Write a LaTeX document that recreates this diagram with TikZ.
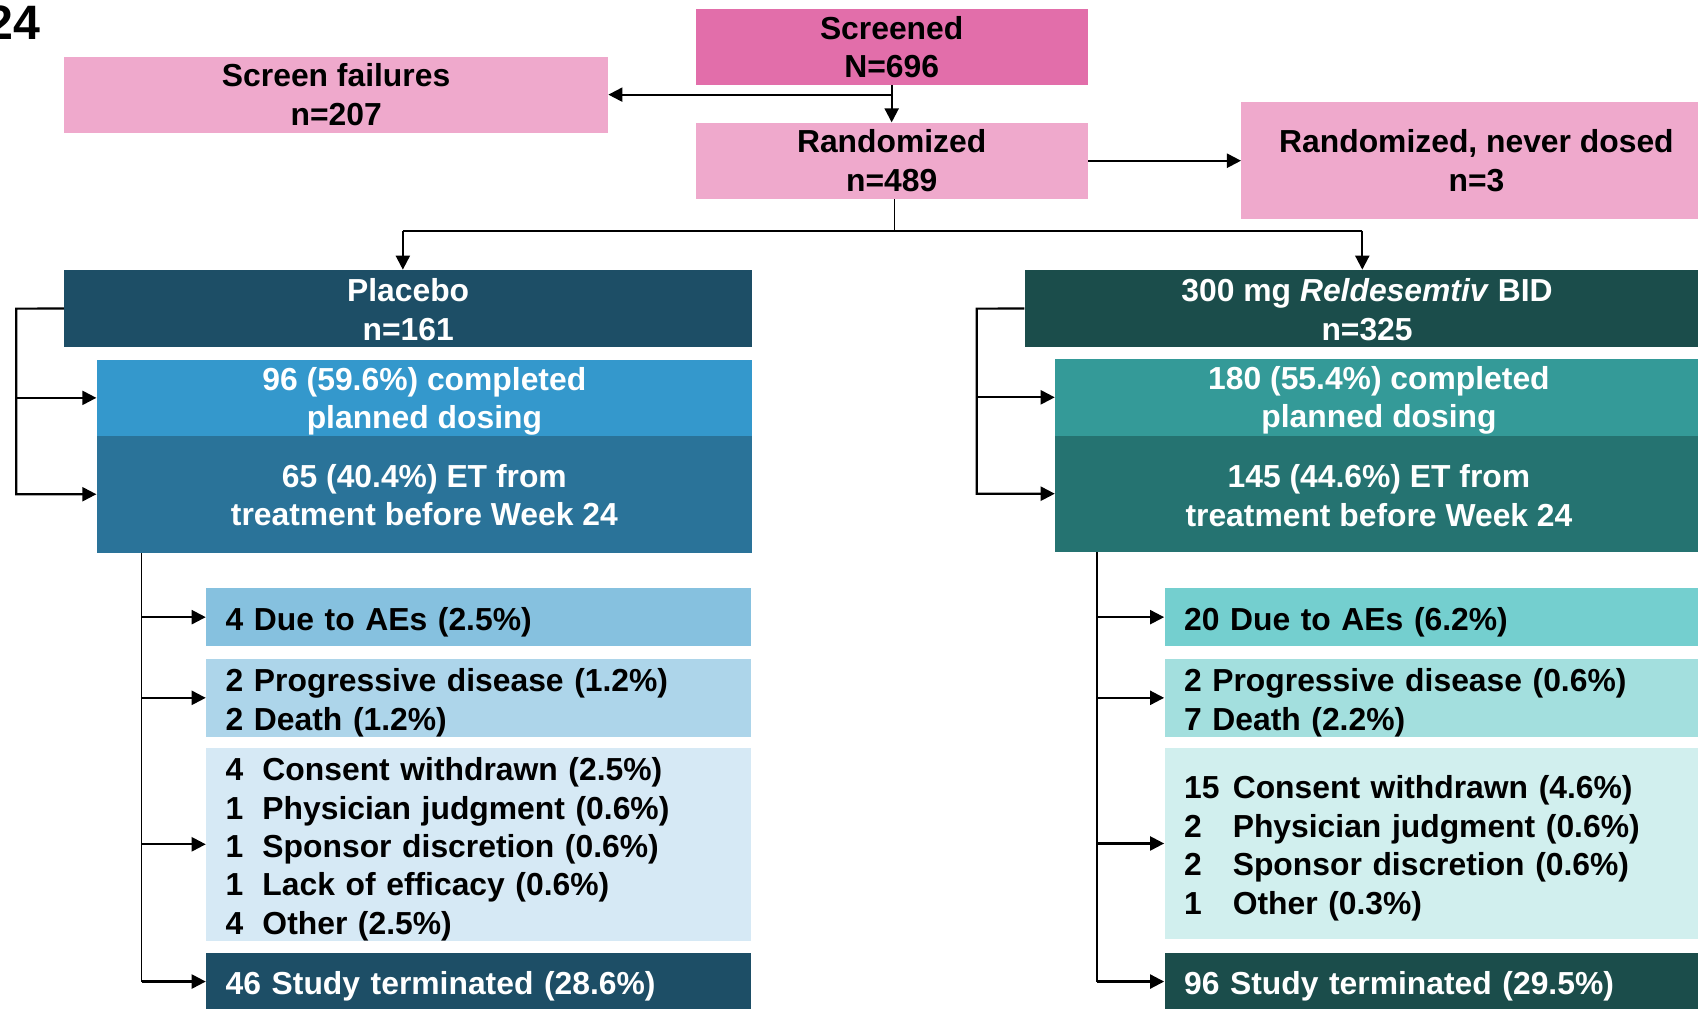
\documentclass[tikz,border=0pt]{standalone}
\usepackage{fontspec}
\setmainfont{Liberation Sans}
\usetikzlibrary{arrows.meta,calc}
\definecolor{cScr}{HTML}{E26EAA}
\definecolor{cPink}{HTML}{EFA9CC}
\definecolor{cPlac}{HTML}{1D4E66}
\definecolor{cPcomp}{HTML}{3498CC}
\definecolor{cPet}{HTML}{2A7399}
\definecolor{cPae}{HTML}{86C1DF}
\definecolor{cPprog}{HTML}{ADD5EA}
\definecolor{cPcons}{HTML}{D6E9F5}
\definecolor{cReld}{HTML}{1B4D4B}
\definecolor{cRcomp}{HTML}{349A98}
\definecolor{cRet}{HTML}{257371}
\definecolor{cRae}{HTML}{74CFCF}
\definecolor{cRprog}{HTML}{A3DFDE}
\definecolor{cRcons}{HTML}{D1EFEE}
\newcommand\dfont{\fontsize{14.7}{17.75}\selectfont\bfseries}
\newcommand\nbox[1]{\makebox[#1][l]}
\newcommand\lift[1]{\rule{0pt}{#1}}
\tikzset{
  box/.style={draw=none, inner sep=0pt, align=center, font=\dfont, anchor=north west},
  lbox/.style={draw=none, inner xsep=9pt, inner ysep=0pt, align=left, text width=#1, font=\dfont, anchor=north west, execute at begin node={\lift{15.2pt}}},
  arr/.style={line width=1pt, -{Triangle[length=6.5pt,width=6.5pt]}},
  ln/.style={line width=1pt},
  thinln/.style={line width=0.5pt},
}
\begin{document}
\begin{tikzpicture}[x=0.5pt,y=-0.5pt]
\useasboundingbox (0,0) rectangle (1568,931);
\clip (0,0) rectangle (1568,931);
\fill[white] (0,0) rectangle (1568,931);
% title fragment
\node[anchor=north east, inner sep=0pt, font=\fontsize{22.3}{22.3}\selectfont\bfseries] (wk) at (38,5) {24};
% top boxes
\node[box, fill=cScr, minimum width=181pt, minimum height=35pt] (scr) at (642,8) {Screened\\N=696};
\node[box, fill=cPink, minimum width=251pt, minimum height=35pt] (sf) at (59,52) {Screen failures\\n=207};
\node[box, fill=cPink, minimum width=181pt, minimum height=35pt] (rand) at (642,113) {Randomized\\n=489};
\node[box, fill=cPink, minimum width=217pt, minimum height=54pt] (never) at (1146,94) {Randomized, never dosed\\n=3};
% arms
\node[box, fill=cPlac, text=white, minimum width=317.5pt, minimum height=35.5pt] (plac) at (59,249) {\lift{11.5pt}Placebo\\n=161};
\node[box, fill=cPcomp, text=white, minimum width=302.5pt, minimum height=35pt] (pcomp) at (89,332) {\lift{13.7pt}96 (59.6\%) completed\\planned dosing};
\node[box, fill=cPet, text=white, minimum width=302.5pt, minimum height=54pt] (pet) at (89,402) {\lift{11.7pt}65 (40.4\%) ET from\\treatment before Week 24};
\node[box, fill=cReld, text=white, minimum width=316pt, minimum height=35.5pt] (reld) at (946,249) {\lift{11.5pt}300 mg \textit{Reldesemtiv} BID\\n=325};
\node[box, fill=cRcomp, text=white, minimum width=299pt, minimum height=35.5pt] (rcomp) at (974,331) {\lift{13.5pt}180 (55.4\%) completed\\planned dosing};
\node[box, fill=cRet, text=white, minimum width=299pt, minimum height=53.5pt] (ret) at (974,402) {\lift{12.5pt}145 (44.6\%) ET from\\treatment before Week 24};
% placebo reasons
\node[lbox=233.5pt, fill=cPae, minimum height=26.5pt] (pae) at (190,543) {4 Due to AEs (2.5\%)};
\node[lbox=233.5pt, fill=cPprog, minimum height=35pt] (pprog) at (190,608) {2 Progressive disease (1.2\%)\\2 Death (1.2\%)};
\node[lbox=233.5pt, fill=cPcons, minimum height=88.5pt] (pcons) at (190,690) {\nbox{17pt}{4}Consent withdrawn (2.5\%)\\\nbox{17pt}{1}Physician judgment (0.6\%)\\\nbox{17pt}{1}Sponsor discretion (0.6\%)\\\nbox{17pt}{1}Lack of efficacy (0.6\%)\\\nbox{17pt}{4}Other (2.5\%)};
\node[lbox=233.5pt, fill=cPlac, text=white, minimum height=26pt] (pterm) at (190,880) {46 Study terminated (28.6\%)};
% reldesemtiv reasons
\node[lbox=242pt, fill=cRae, minimum height=26.5pt] (rae) at (1075,543) {20 Due to AEs (6.2\%)};
\node[lbox=242pt, fill=cRprog, minimum height=34.5pt] (rprog) at (1075,608) {2 Progressive disease (0.6\%)\\7 Death (2.2\%)};
\node[lbox=242pt, fill=cRcons, minimum height=88.5pt] (rcons) at (1075,690) {\nbox{22.5pt}{15}Consent withdrawn (4.6\%)\\\nbox{22.5pt}{2}Physician judgment (0.6\%)\\\nbox{22.5pt}{2}Sponsor discretion (0.6\%)\\\nbox{22.5pt}{1}Other (0.3\%)};
\node[lbox=242pt, fill=cReld, text=white, minimum height=26pt] (rterm) at (1075,880) {96 Study terminated (29.5\%)};
% connectors top
\draw[arr] (scr.south) -- (rand.north);
\draw[arr] (scr.south |- sf.east) -- (sf.east);
\draw[arr] (rand.east) -- (rand.east -| never.west);
\coordinate (brc) at (826,213);
\coordinate (bl) at (372,213);
\coordinate (brr) at (1258,213);
\draw[thinln] (rand.south -| brc) -- (brc);
\draw[ln] (bl) -- (brr);
\draw[arr] (bl) -- (bl |- plac.north);
\draw[arr] (brr) -- (brr |- reld.north);
% brackets
\coordinate (pbx) at (15,285);
\draw[arr] (plac.west) -- (pbx) |- (pet.west);
\draw[arr] (pbx |- pcomp.west) -- (pcomp.west);
\coordinate (rbx) at (902,285);
\draw[arr] (reld.west) -- (rbx) |- (ret.west -| rcomp.west);
\draw[arr] (rbx |- rcomp.west) -- (rcomp.west);
% stems
\coordinate (pst) at (131,510);
\draw[thinln] (pst |- pet.south) -- (pst |- pterm.west);
\draw[arr] (pst |- pae.west) -- (pae.west);
\draw[arr] (pst |- pprog.west) -- (pprog.west);
\draw[arr] (pst |- pcons.west) -- (pcons.west);
\draw[arr] (pst |- pterm.west) -- (pterm.west);
\coordinate (rst) at (1013,509);
\draw[thinln] (rst |- ret.south) -- (rst |- rterm.west);
\draw[arr] (rst |- rae.west) -- (rae.west);
\draw[arr] (rst |- rprog.west) -- (rprog.west);
\draw[arr] (rst |- rcons.west) -- (rcons.west);
\draw[arr] (rst |- rterm.west) -- (rterm.west);
\end{tikzpicture}
\end{document}
